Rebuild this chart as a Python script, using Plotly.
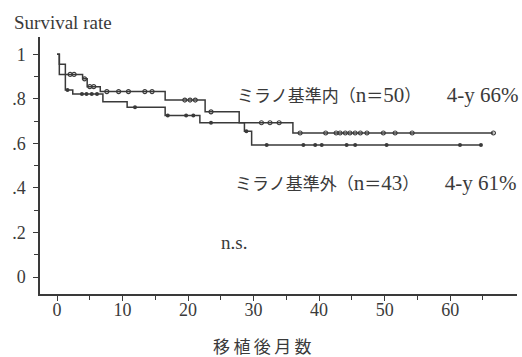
import plotly.graph_objects as go

# Kaplan-Meier step data (months, survival)
in_times = [0, 0.35, 3.9, 4.6, 6.6, 16.5, 22.6, 27.8, 36.0, 66.6]
in_surv = [1.0, 0.91, 0.89, 0.855, 0.833, 0.795, 0.742, 0.693, 0.647, 0.647]
in_censor = [2.0, 2.6, 4.2, 5.0, 5.6, 7.6, 9.4, 10.9, 13.4, 14.5, 19.5, 20.3, 21.1,
             23.5, 31.2, 32.5, 33.9, 37.1, 41.0, 42.6, 43.2, 44.0, 44.7, 45.5, 46.3,
             47.3, 49.8, 51.6, 54.2, 66.6]

out_times = [0, 0.35, 1.27, 2.4, 7.0, 10.7, 16.5, 21.8, 28.6, 29.7, 64.7]
out_surv = [1.0, 0.956, 0.84, 0.822, 0.787, 0.762, 0.725, 0.693, 0.655, 0.593, 0.593]
out_censor = [1.6, 3.8, 4.5, 5.3, 6.1, 11.9, 16.9, 19.7, 20.8, 23.5, 28.9, 32.0,
              37.6, 39.4, 40.4, 44.2, 45.5, 50.3, 61.5, 64.7]

x_ticks = [0, 10, 20, 30, 40, 50, 60]
x_minor = [5, 15, 25, 35, 45, 55, 65]
y_ticks = [0, 0.2, 0.4, 0.6, 0.8, 1.0]
y_ticktext = ["0", ".2", ".4", ".6", ".8", "1"]
y_minor = [0.1, 0.3, 0.5, 0.7, 0.9]

group_in = "ミラノ基準内"
group_out = "ミラノ基準外"
n_in, n_out = 50, 43
rate_in, rate_out = "66%", "61%"
x_title = "移植後月数"


def step_value(times, surv, t):
    v = surv[0]
    for ti, si in zip(times, surv):
        if ti <= t:
            v = si
    return v


INK = "#3a3a3a"
fig = go.Figure()
fig.add_trace(go.Scatter(x=in_times, y=in_surv, mode="lines", line=dict(shape="hv", color=INK, width=1.5),
                         showlegend=False, hoverinfo="skip"))
fig.add_trace(go.Scatter(x=out_times, y=out_surv, mode="lines", line=dict(shape="hv", color=INK, width=1.5),
                         showlegend=False, hoverinfo="skip"))
fig.add_trace(go.Scatter(x=in_censor, y=[step_value(in_times, in_surv, t) for t in in_censor], mode="markers",
                         marker=dict(symbol="circle-open", size=4, color=INK, line=dict(width=1.2)),
                         showlegend=False, hoverinfo="skip"))
fig.add_trace(go.Scatter(x=out_censor, y=[step_value(out_times, out_surv, t) for t in out_censor], mode="markers",
                         marker=dict(symbol="circle", size=4, color=INK),
                         showlegend=False, hoverinfo="skip"))

serif = "Liberation Serif, Times New Roman, serif"
cjk = "Liberation Serif, Noto Sans CJK JP, serif"

fig.update_layout(
    width=522, height=357,
    margin=dict(l=40, r=5, t=37, b=63),
    paper_bgcolor="white", plot_bgcolor="white",
    xaxis=dict(range=[-2.6, 70.2], showgrid=False, zeroline=False, showline=True, linecolor=INK, linewidth=1.5,
               ticks="outside", ticklen=5, tickcolor=INK, tickwidth=1.3, tickvals=x_ticks,
               tickfont=dict(family=serif, size=18, color=INK), ticklabelstandoff=-6,
               minor=dict(tickvals=x_minor, ticks="outside", ticklen=4, tickcolor=INK, tickwidth=1.2)),
    yaxis=dict(range=[-0.076, 1.078], showgrid=False, zeroline=False, showline=True, linecolor=INK, linewidth=1.5,
               ticks="outside", ticklen=5, tickcolor=INK, tickwidth=1.3, tickvals=y_ticks, ticktext=y_ticktext,
               tickfont=dict(family=serif, size=18, color=INK), ticklabelstandoff=4,
               minor=dict(tickvals=y_minor, ticks="outside", ticklen=4, tickcolor=INK, tickwidth=1.2)),
)


def px(xp):
    return (xp - 40) / 477


def py(yp):
    return (294 - yp) / 257


def group_label(name, n, rate):
    return (f"{name}（<span style='font-size:21px'>n</span>＝"
            f"<span style='font-size:21px'>{n}</span>）　　"
            f"<span style='font-size:21px'>4-y {rate}</span>")


annos = [
    dict(text="Survival rate", x=px(12), y=py(23), xanchor="left", yanchor="middle",
         font=dict(family=serif, size=19, color=INK)),
    dict(text=group_label(group_in, n_in, rate_in), x=px(235), y=py(95), xanchor="left", yanchor="middle",
         font=dict(family=cjk, size=17, color=INK)),
    dict(text=group_label(group_out, n_out, rate_out), x=px(233), y=py(183), xanchor="left", yanchor="middle",
         font=dict(family=cjk, size=17, color=INK)),
    dict(text="n.s.", x=px(219), y=py(242), xanchor="left", yanchor="middle",
         font=dict(family=serif, size=19, color=INK)),
    dict(text="\u2009".join(x_title), x=px(262), y=py(345), xanchor="center", yanchor="middle",
         font=dict(family="Noto Sans CJK JP", size=17, color=INK)),
]
for a in annos:
    fig.add_annotation(xref="paper", yref="paper", showarrow=False, **a)

fig.write_html("out.html", config={"displayModeBar": False},
               post_script="document.body.style.margin='0';")
